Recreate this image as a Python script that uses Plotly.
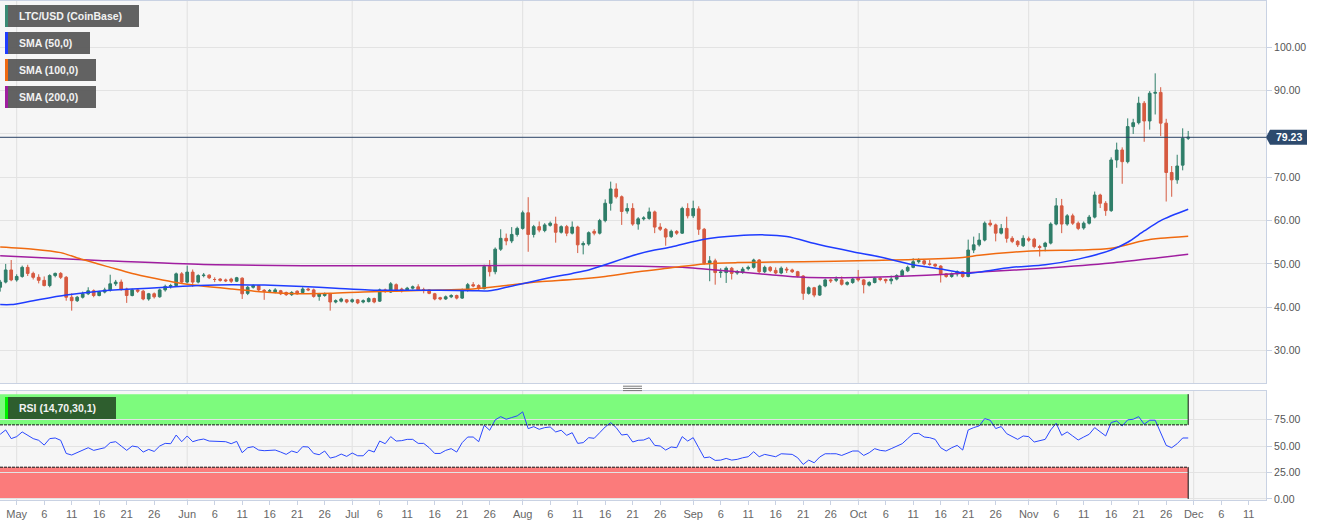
import pandas as pd
import plotly.graph_objects as go
from plotly.subplots import make_subplots

# ---------------- data (LTC/USD daily, CoinBase) ----------------
START = "2020-04-28"

opens = [44.6, 45.8, 48.6, 46.3, 47.1, 49.2, 47.8, 46.9, 46.2, 45.0,
         47.3, 47.8, 46.9, 42.3, 41.5, 42.3, 43.1, 43.8, 42.7, 43.5,
         44.0, 45.4, 45.8, 44.2, 42.7, 44.0, 43.7, 41.9, 43.1, 42.4,
         44.0, 44.8, 45.0, 47.7, 45.8, 48.1, 45.8, 47.3, 47.4, 46.4,
         46.5, 46.3, 46.5, 46.0, 46.7, 43.2, 44.6, 45.0, 43.9, 43.7,
         43.5, 43.8, 43.4, 42.9, 43.7, 43.4, 44.2, 44.0, 42.5, 42.7,
         43.1, 41.2, 41.4, 41.7, 41.3, 41.7, 41.2, 41.3, 42.0, 41.4,
         44.0, 43.5, 45.2, 44.2, 44.0, 44.4, 44.7, 44.0, 44.0, 43.1,
         42.2, 41.9, 42.4, 42.7, 42.1, 44.0, 45.2, 45.0, 44.3, 49.4,
         48.2, 53.4, 55.9, 55.3, 56.8, 58.2, 61.8, 56.8, 58.6, 57.7,
         58.9, 59.2, 57.3, 58.6, 57.1, 58.5, 54.4, 54.6, 57.5, 57.1,
         60.0, 64.0, 67.3, 65.5, 62.2, 62.8, 59.2, 60.4, 60.5, 62.0,
         58.5, 58.0, 56.3, 57.5, 57.1, 62.8, 61.1, 62.7, 58.0, 50.1,
         50.7, 48.0, 48.0, 49.0, 47.9, 48.0, 48.9, 49.2, 50.9, 48.2,
         49.2, 48.5, 47.9, 48.8, 48.6, 48.2, 47.2, 43.2, 44.5, 42.8,
         44.9, 46.3, 46.2, 46.3, 45.3, 45.7, 46.7, 46.3, 45.1, 45.7,
         46.7, 46.4, 46.1, 46.5, 47.3, 48.4, 49.2, 50.5, 50.7, 50.0,
         49.9, 49.5, 47.7, 47.1, 47.7, 48.2, 47.1, 53.2, 54.4, 55.5,
         59.4, 59.0, 57.1, 58.2, 55.9, 55.2, 54.2, 55.8, 55.7, 54.0,
         54.0, 54.8, 59.2, 63.4, 59.2, 61.1, 59.4, 58.3, 59.4, 60.8,
         65.9, 64.0, 62.3, 74.0, 76.3, 73.6, 81.7, 82.6, 87.1, 83.0,
         89.4, 89.6, 82.5, 71.1, 69.4, 72.8, 79.0]

closes = [45.8, 48.6, 46.3, 47.1, 49.2, 47.8, 46.9, 46.2, 45.0, 47.3,
          47.8, 46.9, 42.3, 41.5, 42.3, 43.1, 43.8, 42.7, 43.5, 44.0,
          45.4, 45.8, 44.2, 42.7, 44.0, 43.7, 41.9, 43.1, 42.4, 44.0,
          44.8, 45.0, 47.7, 45.8, 48.1, 45.8, 47.3, 47.4, 46.8, 46.4,
          46.2, 46.1, 46.0, 46.8, 43.1, 44.6, 45.0, 44.0, 43.7, 43.8,
          44.0, 43.1, 42.9, 43.4, 43.1, 44.2, 44.0, 42.5, 43.1, 43.1,
          41.2, 41.5, 41.9, 41.2, 41.7, 41.0, 41.5, 42.0, 41.2, 44.0,
          43.7, 45.4, 44.0, 43.8, 44.4, 44.7, 44.0, 44.0, 43.2, 41.9,
          41.9, 42.4, 42.7, 42.1, 44.0, 45.2, 44.9, 44.3, 49.4, 48.2,
          53.4, 55.9, 55.3, 56.8, 58.2, 61.8, 56.8, 58.6, 57.8, 59.0,
          59.4, 57.3, 58.6, 57.1, 58.5, 54.4, 54.7, 57.2, 57.1, 60.0,
          64.0, 67.3, 65.5, 62.1, 62.8, 59.2, 60.4, 60.6, 62.0, 58.5,
          58.0, 56.2, 57.5, 57.1, 62.8, 61.1, 62.8, 58.0, 50.1, 50.7,
          48.0, 48.1, 49.0, 47.8, 48.2, 48.8, 49.2, 50.9, 48.2, 49.2,
          48.5, 47.9, 49.0, 48.6, 48.2, 47.2, 43.2, 44.5, 42.8, 44.9,
          46.3, 46.1, 46.5, 45.3, 45.7, 46.5, 46.3, 45.2, 45.7, 46.7,
          46.4, 46.1, 46.5, 47.3, 48.4, 49.2, 50.5, 50.8, 50.0, 49.9,
          49.5, 47.7, 47.1, 47.7, 48.2, 47.1, 53.2, 54.4, 55.5, 59.4,
          59.0, 57.1, 58.2, 55.9, 55.2, 54.4, 55.9, 55.5, 54.0, 53.8,
          54.8, 59.2, 63.4, 59.2, 61.1, 59.4, 58.2, 59.4, 60.8, 65.9,
          64.0, 62.3, 74.0, 76.3, 73.6, 81.7, 82.6, 87.1, 83.0, 89.4,
          89.6, 82.5, 71.1, 69.4, 72.6, 79.0, 79.23]

highs = [46.3, 50.0, 50.9, 47.6, 49.6, 49.8, 48.2, 47.6, 47.1, 47.6,
         48.0, 48.1, 47.2, 43.2, 42.6, 43.6, 44.6, 44.1, 43.8, 44.5,
         47.5, 46.3, 46.4, 44.5, 44.3, 44.4, 44.0, 43.3, 43.4, 44.3,
         45.2, 45.4, 48.0, 48.1, 49.6, 48.7, 47.6, 47.9, 47.6, 46.9,
         46.7, 46.6, 46.8, 47.0, 46.9, 44.9, 45.3, 45.1, 44.2, 44.2,
         44.4, 44.0, 43.6, 43.7, 43.9, 44.6, 44.5, 44.3, 43.3, 43.4,
         43.3, 41.8, 42.2, 41.9, 42.0, 41.9, 41.8, 42.3, 42.2, 44.3,
         44.3, 45.8, 45.5, 44.5, 44.7, 45.0, 45.3, 44.5, 44.2, 43.3,
         42.4, 42.7, 43.0, 42.9, 44.3, 45.6, 45.8, 45.3, 49.8, 50.9,
         53.8, 58.0, 57.0, 58.5, 58.6, 62.3, 65.4, 59.0, 59.8, 59.4,
         59.8, 60.9, 58.9, 59.0, 59.8, 58.8, 55.2, 57.5, 58.0, 60.4,
         64.9, 69.0, 68.6, 65.8, 64.0, 64.0, 60.8, 61.0, 63.0, 62.3,
         59.4, 58.3, 57.9, 57.8, 63.2, 64.0, 64.6, 63.3, 58.3, 51.8,
         51.2, 49.0, 49.4, 49.3, 48.6, 49.3, 49.6, 51.2, 51.1, 49.6,
         49.5, 49.2, 49.4, 49.3, 48.9, 48.4, 47.4, 44.8, 44.7, 45.2,
         46.6, 46.6, 47.1, 47.1, 46.0, 46.8, 48.6, 46.5, 46.0, 47.0,
         47.0, 46.6, 47.3, 47.6, 48.8, 49.6, 51.3, 51.3, 50.9, 50.9,
         50.1, 49.7, 47.9, 48.0, 48.5, 48.4, 55.6, 56.3, 57.1, 59.8,
         60.2, 59.3, 59.2, 60.9, 56.4, 55.5, 56.6, 56.3, 56.0, 54.4,
         55.1, 59.6, 65.2, 65.0, 61.5, 61.6, 59.8, 59.8, 61.3, 66.7,
         66.2, 64.5, 74.6, 78.0, 76.9, 83.6, 83.5, 88.6, 87.6, 89.9,
         94.0, 90.8, 83.5, 72.6, 75.2, 81.3, 80.7]

lows = [43.6, 45.5, 46.0, 45.9, 46.8, 47.2, 46.4, 45.5, 44.8, 44.6,
        46.9, 46.5, 41.5, 39.2, 41.2, 42.0, 42.8, 42.3, 42.5, 43.2,
        43.6, 44.9, 43.8, 41.0, 42.5, 43.3, 41.6, 41.5, 42.0, 42.2,
        43.6, 44.3, 44.7, 45.4, 45.5, 44.7, 45.5, 46.9, 46.5, 45.8,
        45.9, 45.8, 45.6, 45.8, 41.9, 42.8, 44.3, 43.7, 41.7, 43.4,
        43.2, 42.8, 42.6, 42.6, 42.9, 43.1, 43.7, 42.2, 41.5, 42.4,
        39.2, 40.9, 41.1, 40.9, 41.0, 40.7, 40.9, 41.1, 40.9, 41.2,
        43.3, 43.3, 43.7, 43.4, 43.8, 44.1, 43.8, 43.2, 43.0, 41.6,
        41.6, 41.7, 42.1, 41.8, 41.9, 43.6, 44.6, 44.0, 44.1, 47.1,
        47.6, 53.0, 54.3, 54.8, 56.3, 57.9, 52.8, 56.1, 57.3, 57.3,
        58.6, 54.9, 57.0, 56.4, 56.8, 52.5, 52.2, 54.2, 56.6, 56.8,
        59.6, 62.3, 65.1, 59.0, 61.6, 58.8, 57.9, 60.0, 60.2, 57.1,
        57.6, 54.2, 56.0, 56.7, 56.9, 60.5, 60.6, 56.7, 49.8, 46.0,
        45.2, 46.8, 45.6, 46.4, 47.5, 47.7, 48.5, 48.9, 47.9, 47.9,
        48.1, 47.6, 47.6, 47.9, 47.9, 46.9, 41.7, 42.9, 42.3, 42.6,
        44.6, 45.6, 45.8, 45.0, 45.0, 45.4, 45.9, 43.2, 44.8, 45.5,
        46.0, 45.5, 45.3, 46.2, 47.0, 48.1, 49.0, 50.1, 49.7, 49.6,
        49.2, 45.7, 46.8, 46.8, 47.1, 46.8, 46.9, 52.5, 54.0, 55.2,
        58.6, 55.2, 56.8, 54.9, 54.8, 53.9, 53.9, 55.1, 53.6, 51.7,
        52.9, 54.5, 58.9, 57.1, 58.8, 59.0, 57.8, 57.9, 59.1, 60.5,
        62.9, 61.1, 62.0, 72.2, 68.5, 73.2, 80.0, 82.2, 78.2, 81.0,
        84.5, 79.5, 64.4, 65.5, 68.5, 71.6, 78.6]

rsi_values = [61.1, 65.2, 57.0, 58.9, 63.3, 60.1, 57.0, 55.4, 50.9, 57.0,
              57.6, 55.4, 43.0, 41.5, 43.7, 46.2, 48.4, 45.9, 47.5, 48.4,
              53.2, 54.1, 50.0, 45.9, 50.0, 49.1, 44.3, 46.8, 44.9, 50.0,
              52.5, 52.2, 60.4, 54.1, 59.5, 54.1, 55.7, 56.6, 54.7, 54.7,
              54.4, 54.1, 52.2, 54.4, 43.7, 48.4, 49.4, 46.2, 45.6, 45.6,
              46.2, 44.3, 42.1, 45.3, 43.7, 49.4, 49.1, 43.0, 41.8, 45.3,
              38.6, 39.9, 42.4, 40.2, 43.4, 40.8, 40.8, 46.2, 44.3, 54.7,
              52.2, 58.9, 54.7, 55.1, 56.3, 56.3, 52.5, 52.5, 48.4, 43.0,
              43.0, 45.9, 47.5, 44.3, 53.2, 58.5, 58.5, 54.1, 69.6, 64.9,
              74.7, 77.8, 75.3, 76.9, 78.5, 82.3, 66.4, 68.3, 65.8, 67.4,
              68.0, 63.3, 64.9, 60.1, 62.6, 52.5, 53.2, 57.9, 57.3, 62.6,
              68.0, 72.1, 67.4, 60.4, 61.1, 53.8, 55.4, 55.7, 57.9, 50.6,
              50.0, 46.2, 49.1, 48.4, 58.9, 54.7, 57.9, 48.4, 38.9, 39.6,
              36.4, 36.7, 38.3, 36.7, 37.4, 38.9, 39.9, 44.6, 39.9, 42.1,
              41.1, 39.9, 42.7, 42.7, 42.1, 38.9, 32.6, 36.7, 34.2, 39.6,
              42.7, 42.7, 42.7, 41.1, 43.0, 45.3, 45.3, 41.1, 43.7, 47.5,
              45.9, 45.3, 47.5, 50.0, 52.2, 57.0, 61.7, 62.0, 58.5, 57.9,
              56.3, 48.4, 45.3, 48.4, 50.6, 46.2, 65.2, 67.4, 69.0, 75.9,
              74.4, 66.5, 68.4, 61.7, 58.9, 56.3, 59.5, 58.9, 53.8, 54.7,
              56.3, 65.2, 71.5, 60.1, 63.3, 59.5, 55.7, 58.5, 61.1, 67.4,
              63.3, 59.5, 72.2, 73.7, 69.0, 74.7, 75.3, 77.8, 70.6, 74.4,
              74.4, 62.7, 50.6, 48.4, 52.2, 57.6, 57.6]

# moving averages (day offset from START, value)
sma50_days = [0, 2, 6, 12, 18, 24, 30, 36, 42, 48, 55, 61, 67, 73, 80, 86, 89, 92,
              98, 104, 107, 110, 113, 116, 119, 122, 128, 134, 139, 143, 149, 155,
              160, 166, 172, 176, 178, 184, 190, 196, 202, 205, 208, 211, 216]
sma50_vals = [40.6, 40.6, 41.5, 42.8, 43.7, 44.2, 44.6, 45.0, 45.2, 45.1, 44.8, 44.4,
              44.0, 43.9, 43.9, 43.8, 43.8, 44.6, 46.3, 47.8, 48.6, 49.8, 51.1, 52.3,
              53.2, 53.9, 55.7, 56.5, 56.7, 56.3, 54.4, 52.8, 51.6, 49.8, 48.6, 47.8,
              48.1, 49.2, 49.8, 51.1, 53.2, 55.0, 57.6, 60.0, 62.6]

sma100_days = [0, 6, 11, 15, 20, 24, 28, 32, 36, 42, 48, 54, 60, 66, 72, 80, 86, 92,
               98, 104, 110, 116, 122, 128, 134, 146, 158, 166, 175, 178, 184, 190,
               196, 202, 208, 211, 216]
sma100_vals = [53.9, 53.4, 52.6, 51.0, 49.2, 47.8, 46.7, 45.7, 45.0, 44.2, 43.5, 43.1,
               43.2, 43.5, 43.7, 44.0, 44.2, 45.0, 45.9, 46.4, 47.1, 48.2, 49.1, 50.0,
               50.3, 50.5, 50.8, 51.0, 51.5, 52.0, 52.7, 53.1, 53.2, 53.6, 55.4, 55.9,
               56.4]

sma200_days = [0, 18, 36, 55, 82, 110, 124, 128, 134, 140, 146, 152, 158, 165, 172,
               178, 190, 202, 211, 216]
sma200_vals = [51.9, 50.8, 49.9, 49.6, 49.6, 49.6, 49.2, 48.8, 48.2, 47.5, 46.9, 46.8,
               46.9, 47.2, 47.6, 48.1, 49.0, 50.2, 51.5, 52.2]

last_price = 79.23
main_ticks = [30, 40, 50, 60, 70, 80, 90, 100]
rsi_ticks = [0, 25, 50, 75]
rsi_upper, rsi_lower, rsi_band_top = 70, 30, 99

month_starts = ["2020-05-01", "2020-06-01", "2020-07-01", "2020-08-01",
                "2020-09-01", "2020-10-01", "2020-11-01", "2020-12-01"]
month_names = ["May", "Jun", "Jul", "Aug", "Sep", "Oct", "Nov", "Dec"]
tick_days = [6, 11, 16, 21, 26]

legend_items = ["LTC/USD (CoinBase)", "SMA (50,0)", "SMA (100,0)", "SMA (200,0)"]

# ---------------- derived ----------------
dates = pd.date_range(START, periods=len(closes), freq="D")
d0 = pd.Timestamp(START)
to_date = lambda ds: [d0 + pd.Timedelta(days=d) for d in ds]

tickvals, ticktext = [], []
for ms, mn in zip(month_starts, month_names):
    tickvals.append(ms)
    ticktext.append(mn)
    for td in tick_days:
        tickvals.append(ms[:8] + f"{td:02d}")
        ticktext.append(str(td))

X_START = "2020-04-27 23:10"
X_END = "2020-12-14 03:30"

# colours
C_UP = "#2f7e69"
C_DN = "#d65a40"
C_50 = "#1f3cff"
C_100 = "#f06a10"
C_200 = "#a01ea0"
C_RSI = "#2a48ff"
BORDER = "#c9d2e3"
GRID = "#e3e3e3"

fig = make_subplots(rows=2, cols=1, shared_xaxes=True)

fig.add_trace(go.Candlestick(
    x=dates, open=opens, high=highs, low=lows, close=closes,
    increasing=dict(fillcolor=C_UP, line=dict(color=C_UP, width=1)),
    decreasing=dict(fillcolor=C_DN, line=dict(color=C_DN, width=1)),
    whiskerwidth=0, hoverinfo="skip"), row=1, col=1)

for days, vals, col in [(sma200_days, sma200_vals, C_200),
                        (sma100_days, sma100_vals, C_100),
                        (sma50_days, sma50_vals, C_50)]:
    fig.add_trace(go.Scatter(x=to_date(days), y=vals, mode="lines",
                             line=dict(color=col, width=1.5, shape="spline", smoothing=0.8),
                             hoverinfo="skip"), row=1, col=1)

fig.add_trace(go.Scatter(x=dates, y=rsi_values, mode="lines",
                         line=dict(color=C_RSI, width=1), hoverinfo="skip"), row=2, col=1)

# ---------------- layout geometry (pixels) ----------------
PW = 1266.0           # plot width in px
TOP, BOT = 1.0, 500.0
PH = BOT - TOP
px = lambda x: x / PW
py = lambda y: (BOT - y) / PH

main_dom = [py(383), 1.0]
rsi_dom = [0.0, py(391)]

fig.update_layout(
    width=1331, height=526,
    margin=dict(l=0, r=65, t=1, b=26),
    paper_bgcolor="white", plot_bgcolor="#f6f6f6",
    showlegend=False,
    font=dict(family="Arial, Liberation Sans, sans-serif", size=11, color="#555"),
)

fig.update_xaxes(rangeslider_visible=False, range=[X_START, X_END], showgrid=False,
                 showline=True, linecolor=BORDER, mirror=True, zeroline=False)
fig.update_xaxes(showticklabels=False, ticks="", row=1, col=1)
fig.update_xaxes(tickmode="array", tickvals=tickvals, ticktext=ticktext,
                 ticks="outside", ticklen=4, tickcolor=BORDER,
                 tickfont=dict(size=11, color="#666"), row=2, col=1)

fig.update_yaxes(domain=main_dom, side="right", range=[22.5, 110.7],
                 tickmode="array", tickvals=main_ticks,
                 ticktext=["" if v == 80 else f"{v:.2f}" for v in main_ticks],
                 showgrid=True, gridcolor=GRID, zeroline=False,
                 ticks="outside", ticklen=5, tickcolor=BORDER,
                 showline=True, linecolor=BORDER, mirror=True,
                 tickfont=dict(size=10.5, color="#555"), row=1, col=1)
fig.update_yaxes(domain=rsi_dom, side="right", range=[-1, 102],
                 tickmode="array", tickvals=rsi_ticks,
                 ticktext=[f"{v:.2f}" for v in rsi_ticks],
                 showgrid=True, gridcolor=GRID, zeroline=False,
                 ticks="outside", ticklen=5, tickcolor=BORDER,
                 showline=True, linecolor=BORDER, mirror=True,
                 tickfont=dict(size=10.5, color="#555"), row=2, col=1)

shapes = []
# RSI bands
last_date = dates[-1]
shapes.append(dict(type="rect", xref="x2", yref="y2", x0=X_START, x1=last_date,
                   y0=rsi_upper, y1=rsi_band_top, fillcolor="#7dfb7d", line=dict(width=0),
                   layer="below"))
shapes.append(dict(type="rect", xref="x2", yref="y2", x0=X_START, x1=last_date,
                   y0=0, y1=rsi_lower, fillcolor="#fb7b7b", line=dict(width=0),
                   layer="below"))
for lvl in (rsi_upper, rsi_lower):
    shapes.append(dict(type="line", xref="x2", yref="y2", x0=X_START, x1=last_date,
                       y0=lvl, y1=lvl, line=dict(color="#111", width=1, dash="3px,1px")))
shapes.append(dict(type="line", xref="x2", yref="y2", x0=last_date, x1=last_date,
                   y0=rsi_upper, y1=rsi_band_top, line=dict(color="#111", width=1)))
shapes.append(dict(type="line", xref="x2", yref="y2", x0=last_date, x1=last_date,
                   y0=0, y1=rsi_lower, line=dict(color="#111", width=1)))

# month grid lines
for ms in month_starts:
    shapes.append(dict(type="line", xref="x", yref="y domain", x0=ms, x1=ms, y0=0, y1=1,
                       line=dict(color="rgba(0,0,0,0.09)", width=1), layer="below"))
    shapes.append(dict(type="line", xref="x2", yref="y2 domain", x0=ms, x1=ms, y0=0, y1=1,
                       line=dict(color="rgba(0,0,0,0.09)", width=1), layer="below"))

# last price line + tag
shapes.append(dict(type="line", xref="paper", yref="y", x0=0, x1=1, y0=last_price,
                   y1=last_price, line=dict(color="#2b4366", width=1)))
shapes.append(dict(type="path", xref="paper", yref="y", xsizemode="pixel", ysizemode="pixel",
                   xanchor=1, yanchor=last_price,
                   path="M0,0 L4,7.5 L41,7.5 L41,-7.5 L4,-7.5 Z",
                   fillcolor="#2d4a6d", line=dict(width=0)))

# legend boxes
box_specs = [(5, 139, 5, 27, "#3a8a74"), (5, 90, 32, 54, C_50),
             (5, 96, 59, 81, C_100), (5, 96, 86, 108, C_200)]
annotations = []
for (x0, x1, y0, y1, col), label in zip(box_specs, legend_items):
    shapes.append(dict(type="rect", xref="paper", yref="paper", x0=px(x0), x1=px(x1),
                       y0=py(y1), y1=py(y0), fillcolor="rgba(90,90,90,0.95)", line=dict(width=0)))
    shapes.append(dict(type="rect", xref="paper", yref="paper", x0=px(x0), x1=px(x0 + 3),
                       y0=py(y1), y1=py(y0), fillcolor=col, line=dict(width=0)))
    annotations.append(dict(xref="paper", yref="paper", x=px(17), y=py((y0 + y1) / 2),
                            xanchor="left", yanchor="middle", showarrow=False,
                            text=f"<b>{label}</b>",
                            font=dict(size=10.5, color="#f2f2f2")))

# RSI label
shapes.append(dict(type="rect", xref="paper", yref="paper", x0=px(5), x1=px(116),
                   y0=py(419), y1=py(397), fillcolor="#2e5e2e", line=dict(width=0)))
shapes.append(dict(type="rect", xref="paper", yref="paper", x0=px(5), x1=px(8),
                   y0=py(419), y1=py(397), fillcolor="#00f000", line=dict(width=0)))
annotations.append(dict(xref="paper", yref="paper", x=px(17), y=py(408), xanchor="left",
                        yanchor="middle", showarrow=False, text="<b>RSI (14,70,30,1)</b>",
                        font=dict(size=10.5, color="#f2f2f2")))

# price tag text
annotations.append(dict(xref="paper", yref="y", x=1, xshift=23, y=last_price,
                        xanchor="center", yanchor="middle", showarrow=False,
                        text=f"<b>{last_price:.2f}</b>", font=dict(size=10.5, color="white")))

# panel divider handle
for yy in (386.2, 388.4, 390.6):
    shapes.append(dict(type="line", xref="paper", yref="paper", x0=px(623), x1=px(642),
                       y0=py(yy), y1=py(yy), line=dict(color="#777", width=1)))

fig.update_layout(shapes=shapes, annotations=annotations)

fig.write_html("out.html")
